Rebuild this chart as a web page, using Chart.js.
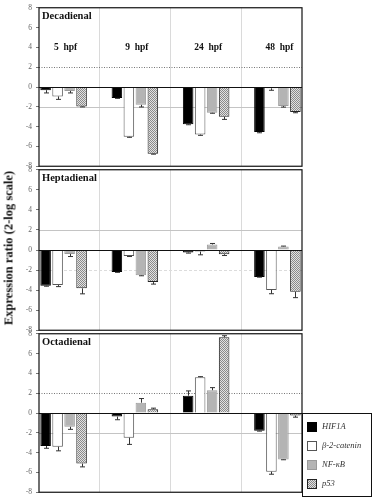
<!DOCTYPE html>
<html>
<head>
<meta charset="utf-8">
<script src="https://cdn.jsdelivr.net/npm/chart.js@4/dist/chart.umd.min.js"></script>
<style>
  body { margin: 0; background: #fff; }
  #page { position: relative; width: 373px; height: 500px; overflow: hidden; background: #fff; }
  #page canvas { position: absolute; left: 0; }
  #y-title {
    position: absolute; left: 9px; top: 248px;
    transform: translate(-50%, -50%) rotate(-90deg);
    white-space: nowrap; font: bold 12.5px "Liberation Serif", serif; color: #111;
  }
</style>
</head>
<body>
<div id="page">
  <canvas id="panel-1" width="373" height="174" style="top:0px"></canvas>
  <canvas id="panel-2" width="373" height="176" style="top:162px"></canvas>
  <canvas id="panel-3" width="373" height="174" style="top:326px"></canvas>
  <div id="y-title">Expression ratio (2-log scale)</div>
</div>
<script>
// Données (ratio d'expression, échelle log2)
const categories = ['5  hpf', '9  hpf', '24  hpf', '48  hpf'];
const seriesNames = ['HIF1A', 'β-2-catenin', 'NF-κB', 'p53'];
const panelNames = ['Decadienal', 'Heptadienal', 'Octadienal'];
const yTicks = [-8, -6, -4, -2, 0, 2, 4, 6, 8];

// une ligne par série : HIF1A, b-2-catenin, NF-kB, p53
const decaValues = [
    [-0.32, -1.10, -3.76, -4.54],
    [-0.95, -5.03, -4.80, -0.13],
    [-0.40, -1.80, -2.60, -1.93],
    [-1.96, -6.73, -3.00, -2.52]
];
const decaErrors = [
    [0.28, 0.05, 0.05, 0.08],
    [0.30, 0.05, 0.08, 0.20],
    [0.20, 0.22, 0.05, 0.10],
    [0.05, 0.05, 0.27, 0.08]
];

const heptaValues = [
    [-3.56, -2.20, -0.26, -2.68],
    [-3.50, -0.60, -0.16, -3.98],
    [-0.39, -2.52, 0.55, 0.36],
    [-3.82, -3.20, -0.42, -4.17]
];
const heptaErrors = [
    [0.05, 0.03, 0.05, 0.03],
    [0.15, 0.05, 0.32, 0.38],
    [0.26, 0.05, 0.10, 0.03],
    [0.55, 0.20, 0.13, 0.58]
];

const octaValues = [
    [-3.33, -0.36, 1.75, -1.78],
    [-3.40, -2.49, 3.62, -5.92],
    [-1.39, 1.04, 2.30, -4.69],
    [-5.11, 0.39, 7.65, -0.26]
];
const octaErrors = [
    [0.23, 0.32, 0.48, 0.05],
    [0.42, 0.68, 0.05, 0.26],
    [0.26, 0.42, 0.26, 0.03],
    [0.33, 0.10, 0.15, 0.16]
];

// Styles
const SERIF = '"Liberation Serif", "DejaVu Serif", serif';
const barFills = ['#000000', '#ffffff', '#b4b4b4', null];
const barBorders = ['#000000', '#555555', '#9a9a9a', '#222222'];
const lineDotted = { color: '#777', dash: [1, 1.5] };
const lineGray = { color: '#c4c4c4', dash: [] };
const lineLight = { color: '#dcdcdc', dash: [3, 2] };

const panels = [
    { canvas: 'panel-1', name: panelNames[0], values: decaValues, errors: decaErrors,
      padTop: 4, padBottom: 6, up: lineDotted, down: lineGray, showCategories: true },
    { canvas: 'panel-2', name: panelNames[1], values: heptaValues, errors: heptaErrors,
      padTop: 6, padBottom: 6, up: lineGray, down: lineLight, showCategories: false },
    { canvas: 'panel-3', name: panelNames[2], values: octaValues, errors: octaErrors,
      padTop: 6, padBottom: 4, up: lineDotted, down: lineGray, showCategories: false, legend: true }
];

/**
 * Motif pointillé des barres p53
 */
function makeStipple(ctx) {
    const c = document.createElement('canvas');
    c.width = 2;
    c.height = 2;
    const g = c.getContext('2d');
    g.fillStyle = '#e2e2e2';
    g.fillRect(0, 0, 2, 2);
    g.fillStyle = '#8a8a8a';
    g.fillRect(0, 0, 1, 1);
    g.fillRect(1, 1, 1, 1);
    return ctx.createPattern(c, 'repeat');
}

function hLine(ctx, area, y, style) {
    const py = Math.round(y) + 0.5;
    ctx.save();
    ctx.strokeStyle = style.color;
    ctx.lineWidth = 1;
    ctx.setLineDash(style.dash);
    ctx.beginPath();
    ctx.moveTo(area.left, py);
    ctx.lineTo(area.right, py);
    ctx.stroke();
    ctx.restore();
}

// Lignes de repère (+2 / -2) sous les barres
const refLines = {
    id: 'refLines',
    beforeDatasetsDraw(chart, args, opts) {
        const y = chart.scales.y;
        hLine(chart.ctx, chart.chartArea, y.getPixelForValue(2), opts.up);
        hLine(chart.ctx, chart.chartArea, y.getPixelForValue(-2), opts.down);
    }
};

// Ligne zéro, barres d'erreur, cadre, titres
const decorations = {
    id: 'decorations',
    afterDatasetsDraw(chart, args, opts) {
        const ctx = chart.ctx;
        const area = chart.chartArea;
        const y = chart.scales.y;
        const x = chart.scales.x;

        hLine(ctx, area, y.getPixelForValue(0), { color: '#111', dash: [] });

        chart.data.datasets.forEach((ds, d) => {
            chart.getDatasetMeta(d).data.forEach((bar, i) => {
                const v = ds.data[i].y;
                const e = ds.errors[i];
                const end = y.getPixelForValue(v + Math.sign(v) * e);
                const bx = Math.round(bar.x) + 0.5;
                ctx.save();
                ctx.strokeStyle = '#333';
                ctx.lineWidth = 1;
                ctx.beginPath();
                ctx.moveTo(bx, bar.y);
                ctx.lineTo(bx, end);
                ctx.moveTo(bx - 2.5, end);
                ctx.lineTo(bx + 2.5, end);
                ctx.stroke();
                ctx.restore();
            });
        });

        // cadre du panneau
        ctx.save();
        ctx.strokeStyle = '#111';
        ctx.lineWidth = 1.2;
        ctx.strokeRect(area.left, area.top, area.right - area.left, area.bottom - area.top);
        ctx.restore();

        // nom du composé
        ctx.save();
        ctx.fillStyle = '#111';
        ctx.font = 'bold 10.5px ' + SERIF;
        ctx.textBaseline = 'middle';
        ctx.fillText(opts.name, area.left + 3, area.top + 9);
        ctx.restore();

        // stades de développement (premier panneau)
        if (opts.showCategories) {
            ctx.save();
            ctx.fillStyle = '#111';
            ctx.font = 'bold 9.5px ' + SERIF;
            ctx.textAlign = 'center';
            ctx.textBaseline = 'middle';
            categories.forEach((c, i) => {
                ctx.fillText(c, x.getPixelForValue(i) + 2, y.getPixelForValue(4));
            });
            ctx.restore();
        }

        // légende (dernier panneau)
        if (opts.legend) {
            const lx = area.right;
            const ly = y.getPixelForValue(0);
            ctx.save();
            ctx.strokeStyle = '#111';
            ctx.lineWidth = 1;
            ctx.strokeRect(lx + 0.5, ly + 0.5, 69, 83);
            chart.data.datasets.forEach((ds, d) => {
                const ry = ly + 9 + d * 19;
                ctx.fillStyle = ds.backgroundColor;
                ctx.fillRect(lx + 5, ry, 10, 10);
                ctx.strokeStyle = ds.borderColor;
                ctx.strokeRect(lx + 5.5, ry + 0.5, 9, 9);
                ctx.fillStyle = '#333';
                ctx.font = 'italic 8.5px ' + SERIF;
                ctx.textBaseline = 'middle';
                ctx.fillText(ds.label, lx + 20, ry + 5);
            });
            ctx.restore();
        }
    }
};

/**
 * Crée un panneau (un composé) du graphique
 */
function drawPanel(panel) {
    const ctx = document.getElementById(panel.canvas).getContext('2d');
    const stipple = makeStipple(ctx);

    return new Chart(ctx, {
        type: 'bar',
        data: {
            datasets: seriesNames.map((name, s) => ({
                label: name,
                data: panel.values[s].map((v, i) => ({ x: i, y: v })),
                errors: panel.errors[s],
                backgroundColor: barFills[s] || stipple,
                borderColor: barBorders[s],
                borderWidth: 1,
                categoryPercentage: 0.673,
                barPercentage: 0.88
            }))
        },
        options: {
            responsive: false,
            animation: false,
            events: [],
            layout: {
                padding: { left: 0, right: 71, top: panel.padTop, bottom: panel.padBottom }
            },
            plugins: {
                legend: { display: false },
                tooltip: { enabled: false },
                refLines: { up: panel.up, down: panel.down },
                decorations: {
                    name: panel.name,
                    showCategories: panel.showCategories,
                    legend: !!panel.legend
                }
            },
            scales: {
                x: {
                    type: 'linear',
                    min: -0.345,
                    max: 3.345,
                    offset: false,
                    grid: { offset: false, color: '#dadada', drawTicks: false },
                    border: { display: false },
                    ticks: { display: false },
                    afterBuildTicks: s => {
                        s.ticks = [0.5, 1.5, 2.5].map(v => ({ value: v }));
                    },
                    afterFit: s => { s.height = 0; }
                },
                y: {
                    min: -8,
                    max: 8,
                    grid: { drawOnChartArea: false, tickLength: 3, tickColor: '#777' },
                    border: { display: false },
                    ticks: {
                        color: '#666',
                        padding: 4,
                        font: { family: SERIF, size: 7.5, lineHeight: 1 }
                    },
                    afterBuildTicks: s => {
                        s.ticks = yTicks.map(v => ({ value: v }));
                    },
                    afterFit: s => { s.width = 39; }
                }
            }
        },
        plugins: [refLines, decorations]
    });
}

panels.forEach(drawPanel);
</script>
</body>
</html>
